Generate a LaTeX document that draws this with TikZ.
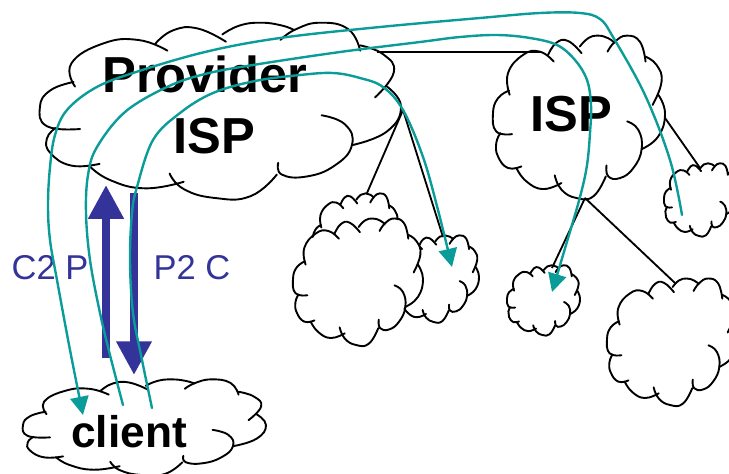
\documentclass[tikz,border=0pt]{standalone}
\usepackage{fontspec}
\usepackage{tikz}
\usetikzlibrary{arrows.meta}
\setmainfont{Liberation Sans}

\definecolor{flowteal}{HTML}{0A9C98}
\definecolor{relblue}{HTML}{333399}

\tikzset{
	cloudline/.style={black,line width=1.35pt,line cap=round},
	linkline/.style={black,line width=1.3pt},
	route/.style={flowteal,line width=1.7pt,line cap=round},
	routetip/.style={route,-{Triangle[length=13pt,width=13pt]}},
	relarrow/.style={relblue,line width=5.7pt,-{Triangle[length=24pt,width=24pt]}},
	bigtext/.style={anchor=base,font=\bfseries\fontsize{36}{40}\selectfont},
	clienttext/.style={anchor=base,font=\bfseries\fontsize{31.5}{36}\selectfont},
	reltext/.style={anchor=base,text=relblue,font=\fontsize{24.5}{28}\selectfont}
}

\newcommand{\cloudblob}[4]{
	\begin{scope}[shift={(#1,#2)},xscale=#3/100,yscale=#4/100,smooth,tension=.8]
	\fill[white] plot[smooth cycle] coordinates {(9,30) (9,20) (27,10) (37,5) (61,.5) (78,.5) (95,18) (100,48) (96,62) (86,70) (74,88) (58,99) (40,95) (29,94.5) (9,82) (2,66) (0,48)};
	\draw[cloudline] plot[smooth] coordinates {(9.7,36.7) (8.7,23.5) (17.5,12.2) (27.2,10.2) (35.3,16.3)};
	\draw[cloudline] plot[smooth] coordinates {(32,12.2) (36.9,4.7) (43.7,3.7) (51.5,11.2)};
	\draw[cloudline] plot[smooth] coordinates {(50.5,7.1) (55.3,2) (61.2,.4) (67,2) (70.5,4.7)};
	\draw[cloudline] plot[smooth] coordinates {(66.6,10.2) (70.9,4.1) (77.7,.4) (85.4,4.1) (88.7,16.3)};
	\draw[cloudline] plot[smooth] coordinates {(88.7,13.3) (95.1,18.4) (98,28.6) (92.8,42.9)};
	\draw[cloudline] plot[smooth] coordinates {(96.1,36.7) (100,48) (96.1,62.2) (86.4,70)};
	\draw[cloudline] plot[smooth] coordinates {(78,53) (84.5,58.2) (86.4,70) (81.6,81.6) (73.8,87.8) (67,86.7) (66,80)};
	\draw[cloudline] plot[smooth] coordinates {(65.6,86.7) (58.3,99) (48.5,100) (39.8,94.9) (35.9,86.1)};
	\draw[cloudline] plot[smooth] coordinates {(39.8,90.8) (29.1,94.5) (19.4,89.8) (13.6,81.6)};
	\draw[cloudline] plot[smooth] coordinates {(16.5,80.6) (8.7,81.6) (2.9,74.5) (1.9,66.3) (4.3,60.2)};
	\draw[cloudline] plot[smooth] coordinates {(11.1,60.8) (1.9,59.2) (0,48) (2.9,38.8) (9.3,34.1)};
	\end{scope}
}

\begin{document}
\begin{tikzpicture}[x=0.025cm,y=-0.025cm]
	
	\useasboundingbox (0,0) rectangle (729,473);
	\clip (0,0) rectangle (729,473);
	
	% where the links and routes start and stop
	\coordinate (provtop) at (377,52);
	\coordinate (provside) at (403,110);
	\coordinate (isptop) at (540,52);
	\coordinate (ispbottom) at (585,198);
	\coordinate (ispside) at (665,118);
	\coordinate (custa) at (367,193);
	\coordinate (custc) at (443,237);
	\coordinate (custd) at (552,268);
	\coordinate (custe) at (675,283);
	\coordinate (custf) at (700,168);
	\coordinate (tipc) at (452,267);
	\coordinate (tipd) at (552,292);
	\coordinate (tipclient) at (83,415);
	\coordinate (fromf) at (682,215);
	\coordinate (clientleft) at (123,405);
	\coordinate (clientright) at (152,408);
	\coordinate (upstart) at (106,358);
	\coordinate (upend) at (106,185);
	\coordinate (downstart) at (134,193);
	\coordinate (downend) at (134,375);
	
	% clouds, back to front
	\cloudblob{40}{22}{361}{176}
	\cloudblob{493}{35}{172}{163}
	\cloudblob{313}{193}{86}{94}
	\cloudblob{391}{235}{88}{87}
	\cloudblob{293}{218}{130}{127}
	\cloudblob{507}{265}{73}{70}
	\cloudblob{607}{278}{130}{127}
	\cloudblob{664}{163}{72}{73}
	\cloudblob{23}{379}{243}{96}
	
	% links
	\draw[linkline] (provtop) -- (isptop);
	\draw[linkline] (provside) -- (custa);
	\draw[linkline] (provside) -- (custc);
	\draw[linkline] (ispbottom) -- (custd);
	\draw[linkline] (ispbottom) -- (custe);
	\draw[linkline] (ispside) -- (custf);
	
	\draw[relarrow] (upstart) -- (upend);
	\draw[relarrow] (downstart) -- (downend);
	
	\node[bigtext] (provider) at (205,93) {Provider};
	\node[bigtext] (provisp) at (214,153) {ISP};
	\node[bigtext] (isp) at (571,131) {ISP};
	\node[clienttext] (client) at (129,447) {client};
	\node[reltext] (ctop) at (50,279) {C2 P};
	\node[reltext] (ptoc) at (192,279) {P2 C};
	
	% routes
	\draw[routetip] plot[smooth,tension=.6] coordinates {(fromf) (670,160) (645,95) (613,37) (600,19) (580,13) (540,13) (480,18) (380,27) (280,38) (205,52) (133,73) (95,88) (67,110) (55,135) (50,167) (48,205) (50,240) (57,280) (70,350) (tipclient)};
	\draw[routetip] plot[smooth,tension=.6] coordinates {(clientleft) (110,355) (100,313) (90,260) (86,213) (88,175) (97,147) (125,112) (167,87) (205,74) (253,65) (340,52) (420,42) (460,37) (497,35) (530,38) (557,45) (575,60) (587,80) (591,105) (590,133) (587,165) (580,197) (566,245) (tipd)};
	\draw[routetip] plot[smooth,tension=.6] coordinates {(clientright) (142,360) (133,313) (130,260) (132,213) (137,187) (153,140) (180,113) (213,93) (255,81) (300,75) (333,73) (360,78) (383,87) (403,110) (423,157) (438,210) (tipc)};
	
\end{tikzpicture}
\end{document}
